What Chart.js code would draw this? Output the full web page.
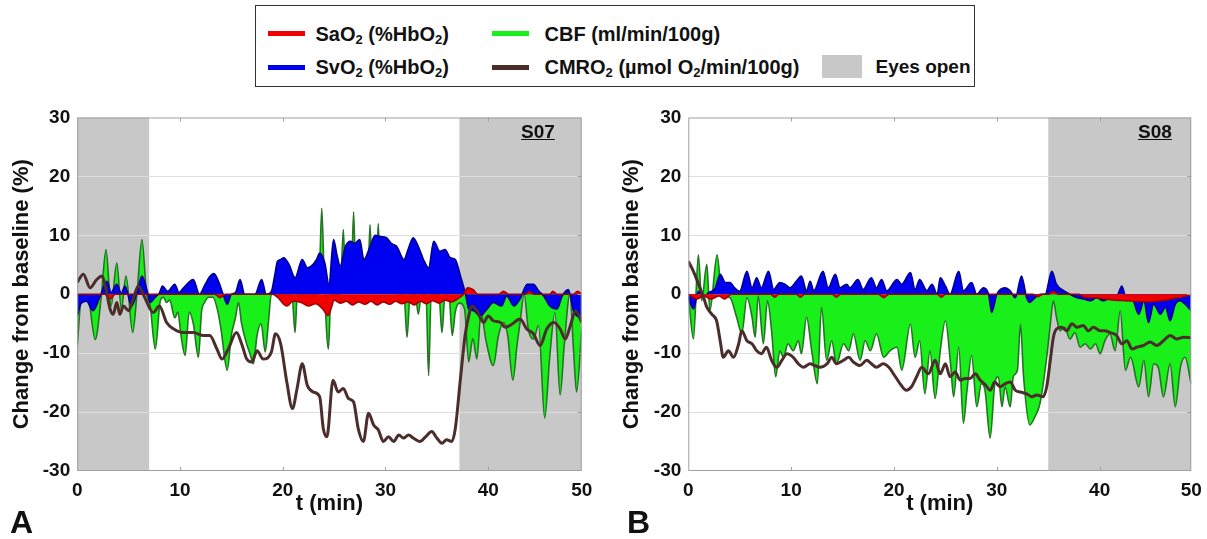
<!DOCTYPE html>
<html>
<head>
<meta charset="utf-8">
<script src="https://cdn.jsdelivr.net/npm/chart.js@4.4.1/dist/chart.umd.min.js"></script>
<style>
  body { margin: 0; width: 1207px; height: 539px; background: #fff; position: relative; overflow: hidden;
         font-family: "Liberation Sans", Arial, sans-serif; font-weight: bold; color: #111; }
  .legend { position: absolute; left: 255px; top: 5px; width: 718px; height: 80px; border: 1.5px solid #333; }
  .sw { position: absolute; width: 37px; height: 5px; }
  .lab { position: absolute; font-size: 20px; line-height: 22px; white-space: nowrap; }
  .lab sub { font-size: 13px; vertical-align: -3px; line-height: 0; }
  canvas { position: absolute; }
  .tag { position: absolute; font-size: 19px; text-decoration: underline; line-height: 22px; }
  .letter { position: absolute; font-size: 32px; line-height: 32px; }
</style>
</head>
<body>
<div class="legend">
  <div class="sw" style="left:11.5px;top:24.5px;background:#f00000"></div>
  <div class="lab" style="left:59.5px;top:16.5px">SaO<sub>2</sub> (%HbO<sub>2</sub>)</div>
  <div class="sw" style="left:235.5px;top:24.5px;background:#19f019"></div>
  <div class="lab" style="left:288.5px;top:16.5px">CBF (ml/min/100g)</div>
  <div class="sw" style="left:11.5px;top:58.5px;background:#0000f0"></div>
  <div class="lab" style="left:59.5px;top:49.5px">SvO<sub>2</sub> (%HbO<sub>2</sub>)</div>
  <div class="sw" style="left:235.5px;top:58.5px;background:#4b2d2b"></div>
  <div class="lab" style="left:288.5px;top:49.5px">CMRO<sub>2</sub> (µmol O<sub>2</sub>/min/100g)</div>
  <div class="sw" style="left:565.5px;top:48.5px;width:40px;height:23px;background:#c8c8c8"></div>
  <div class="lab" style="left:619.5px;top:49.5px;font-size:19px">Eyes open</div>
</div>

<canvas id="chartA" width="600" height="425" style="left:0;top:100px"></canvas>
<canvas id="chartB" width="600" height="425" style="left:610px;top:100px"></canvas>

<div class="tag" style="left:521px;top:121px">S07</div>
<div class="tag" style="left:1138px;top:121px">S08</div>
<div class="letter" style="left:10px;top:506px">A</div>
<div class="letter" style="left:627px;top:506px">B</div>

<script>
// ---------- axes ----------
const xTickValues = [0, 10, 20, 30, 40];          // last label sits on the axis end
const xTickLabels = ['0', '10', '20', '30', '40', '50'];
const yTickValues = [-30, -20, -10, 0, 10, 20, 30];

// ---------- S07 (panel A) ----------
const xMaxA = 49.1;
const eyesOpenA = [[0, 7.0], [37.2, 49.1]];

const cbfA_t = [0,0.45,1.1,1.75,2.35,2.8,3.3,3.85,4.3,4.75,5.4,5.85,6.3,6.75,7.1,7.6,8.1,8.4,8.7,9.0,9.5,9.8,10.1,10.5,10.9,11.3,11.8,12.1,12.4,12.8,13.2,13.7,14.0,14.6,15.0,15.4,15.7,16.0,16.5,16.8,17.15,17.5,17.9,18.3,18.6,18.9,20.9,21.2,21.4,21.6,23.5,23.8,24.05,24.45,24.7,25.6,25.9,26.15,26.65,26.9,27.15,28.25,28.5,28.75,29.05,29.3,29.55,31.8,32.1,32.4,32.9,33.2,33.5,33.95,34.2,34.45,35.2,35.5,35.8,36.2,36.5,36.8,37.2,37.7,38.1,38.5,38.9,39.3,39.8,40.5,41.0,41.5,41.9,42.4,42.8,43.1,43.5,43.9,44.4,44.9,45.5,46.0,46.5,47.0,47.4,47.95,48.3,48.6,49.1];
const cbfA   = [-8.7,-0.3,-1.0,-7.7,-0.3,7.6,-2.0,5.3,-2.5,3.1,-6.5,0.8,9.3,0,-2,-9.3,-1.0,-0.5,-1.4,-1.0,-4.0,-3.0,-7.0,-10.4,-3.0,-5.0,-10.7,-3.0,-1.4,-0.5,-0.5,-3.0,-6.0,-12.9,-7.0,-4.0,-1.4,-5.0,-8.5,-10.0,-11.8,-7.0,-5.0,-9.8,-5.0,0,0,-6.5,-0.5,0,0,14.6,2.0,-9.3,0,0,11.0,0.5,0.5,14.0,0.5,0.5,11.8,0.5,0.5,12.0,0.5,0,-7.3,0,0,-3.4,0,0,-13.8,0,0,-6.5,0,-0.5,-7.0,-3.0,-1.5,-2.5,-11.5,-7.5,-11.0,-3.1,-8.0,-12.1,-7.0,-4.8,-7.0,-14.6,-8.7,-4.8,0,-5.9,-7.6,-5.3,-21.0,-10.4,-3.1,-17.1,-8.7,0,-9.3,-16.6,-6.0];

const svoA_t = [0,0.4,0.9,1.55,2.2,2.9,3.3,3.85,4.3,4.65,5.3,5.85,6.3,6.85,7.1,7.6,8.0,8.3,8.8,9.5,9.9,10.3,11.3,11.9,12.4,12.9,13.3,13.8,14.2,14.6,15.0,15.4,15.85,16.3,17.3,17.95,18.4,18.9,19.2,19.5,19.8,20.1,20.6,21.2,21.9,22.4,22.8,23.3,23.6,24.1,24.5,24.95,25.3,25.6,26.1,26.6,27.0,27.5,27.9,28.5,29.0,29.5,30.1,30.6,31.1,31.8,32.2,32.7,33.2,33.7,34.2,34.7,35.3,35.8,36.3,36.8,37.3,37.8,38.1,38.6,39.2,39.9,40.5,41.3,41.8,42.5,43.1,43.8,44.4,44.9,45.4,46.0,46.7,47.2,47.8,48.3,49.1];
const svoA   = [-3.7,-1.5,-1.2,-2.8,-0.5,2.2,0.3,1.7,0.2,1.4,-2.0,0.5,3.1,0.3,-1.4,-0.5,0.2,1.4,0.5,1.7,0.3,1.0,2.5,0,1.5,3.0,3.5,2.0,0,-1.7,0,0.3,2.5,0,0,2.5,0,0.5,3.0,5.6,5.9,6.2,5.1,2.8,5.9,4.5,4.8,5.9,7.0,5.3,1.7,9.3,6.5,4.8,8.1,9.0,8.6,9.3,5.9,8.1,10.0,9.8,9.6,8.6,8.1,5.9,7.6,9.6,8.1,5.9,4.5,9.0,7.3,7.6,6.2,5.9,3.1,0,-2.5,-2.8,-3.7,-2.5,-1.4,-2.0,-0.3,-2.0,-0.8,1.7,1.7,0.6,-0.3,-2.0,-2.5,-0.3,0.8,-2.8,-4.2];

const saoA_t = [0,2.7,3.2,3.7,13.4,13.9,14.4,19.0,19.5,20.4,21.0,21.8,22.5,23.2,23.9,24.4,24.7,25.0,25.6,26.2,26.8,27.4,28.0,28.6,29.2,29.8,30.4,31.0,31.6,32.2,32.8,33.4,34.0,34.6,35.2,35.8,36.4,37.0,37.6,38.0,38.5,39.0,41.0,41.5,42.0,43.6,44.0,44.5,46.0,46.3,46.7,48.3,48.7,49.1];
const saoA   = [0,0,-0.8,0,0,-0.6,0,0,-0.5,-2.0,-1.2,-1.4,-2.0,-1.6,-2.5,-3.6,-2.5,-1.0,-1.5,-1.2,-1.8,-1.3,-1.7,-1.2,-1.8,-1.3,-1.7,-1.2,-1.6,-1.3,-1.8,-1.2,-1.6,-1.1,-1.5,-1.0,-1.3,-0.8,0,1.1,0.8,0,0,0.5,0,0,0.5,0,0,0.5,0,0,0.5,0];

const cmroA_t = [0,0.6,1.25,1.9,2.4,2.7,3.2,3.5,3.85,4.15,4.5,5.0,5.45,5.95,6.5,7.4,8.0,8.7,9.4,10.3,11.3,12.3,12.9,13.6,14.1,14.7,15.5,16.0,16.5,17.0,17.5,18.1,18.9,19.3,19.8,20.4,20.95,21.4,21.9,22.4,23.0,23.6,23.95,24.3,24.9,25.4,25.9,26.4,26.9,27.35,27.85,28.35,28.85,29.3,29.8,30.3,30.8,31.3,31.75,32.25,32.7,33.35,33.9,34.5,35.0,35.5,35.95,36.45,36.8,37.3,37.75,38.1,38.4,38.9,39.55,40.0,40.5,41.2,41.65,42.3,43.1,43.75,44.4,45.05,45.7,46.4,47.0,47.5,48.0,48.5,49.1];
const cmroA   = [2.0,3.4,1.1,2.5,3.1,1.7,-2.5,-3.4,-1.4,-3.4,-2.0,-2.8,-0.8,1.4,-0.3,-3.1,-2.0,-4.8,-5.9,-6.5,-6.5,-7.0,-7.0,-9.3,-11.0,-9.3,-6.5,-8.4,-11.0,-11.5,-9.6,-11.0,-9.8,-6.7,-8.4,-14.9,-19.4,-16.0,-11.8,-15.5,-16.6,-17.4,-22.8,-24.2,-14.6,-16.6,-16.0,-17.7,-18.3,-22.8,-25.0,-20.2,-22.2,-23.0,-25.0,-24.2,-25.0,-23.9,-24.4,-23.9,-24.4,-25.0,-24.2,-23.3,-24.4,-25.3,-24.7,-25.0,-22.8,-14.3,-7.0,-3.7,-2.0,-2.8,-4.8,-3.7,-4.5,-4.8,-5.6,-5.1,-4.2,-5.9,-6.7,-8.7,-5.9,-4.8,-5.9,-7.6,-5.3,-2.8,-4.8];

// ---------- S08 (panel B) ----------
const xMaxB = 48.9;
const eyesOpenB = [[35.0, 48.9]];

const cbfB_t = [0,0.5,0.98,1.3,1.8,2.1,2.8,3.25,4.05,4.7,5.2,5.7,6.2,6.5,6.8,7.3,7.7,8.1,8.5,8.9,9.25,9.7,10.2,10.7,11.0,11.5,12.0,12.55,12.95,13.45,13.95,14.4,15.1,15.6,16.05,16.7,17.2,17.7,18.3,19.0,19.6,20.3,20.75,21.6,22.05,22.5,23.0,23.5,24.0,24.5,25.0,25.5,25.8,26.3,26.75,27.1,27.55,28.05,28.5,28.85,29.35,29.8,30.15,30.5,30.8,31.3,31.6,32.0,32.3,32.6,33.2,33.7,34.2,34.85,35.2,35.5,35.8,36.15,36.6,37.1,37.6,38.1,38.6,39.1,39.6,40.05,40.5,41.0,41.5,42.0,42.5,43.0,43.8,44.3,44.75,45.25,45.7,46.2,46.85,47.35,47.85,48.3,48.9];
const cbfB   = [0,-7.6,6.7,-1.1,5.1,-2.8,6.7,0,-0.6,-3.9,-6.7,-0.6,-3.9,-7.3,-0.3,-8.4,-1.1,-6.2,-14.0,-9.6,-10.7,-8.4,-9.6,-7.9,-10.1,-3.9,-9.6,-15.2,-2.2,-11.2,-7.9,-11.8,-8.4,-9.6,-6.7,-11.2,-7.9,-9.6,-6.7,-10.7,-9.6,-9.0,-12.9,-5.1,-10.7,-7.9,-16.9,-9.6,-17.7,-9.6,-4.5,-11.8,-17.4,-9.0,-21.9,-16.3,-10.4,-19.1,-15.2,-16.3,-24.4,-15.2,-14.0,-19.1,-15.7,-19.1,-14.0,-12.9,-5.1,-14.0,-22.2,-20.8,-18.5,-10.7,-5.1,-1.1,-3.9,-6.2,-5.6,-7.6,-6.5,-9.0,-8.4,-9.3,-8.4,-10.1,-7.9,-6.7,-9.6,-2.8,-12.9,-10.7,-15.7,-11.2,-17.4,-11.8,-12.4,-17.4,-11.8,-19.1,-12.4,-10.7,-15.2];

const svoB_t = [0,0.5,1.0,1.5,2.0,2.6,3.1,3.6,4.05,4.5,5.0,5.7,6.2,6.65,7.1,7.8,8.3,8.9,9.4,9.9,10.5,11.0,11.5,11.85,12.2,13.1,13.6,14.3,14.75,15.4,15.7,16.5,17.0,17.8,18.3,18.8,19.3,20.3,20.75,21.6,22.05,22.5,23.2,23.7,24.2,24.5,25.0,25.45,26.3,26.75,27.55,28.05,28.7,29.2,29.5,30.0,30.8,31.3,31.8,32.4,32.9,33.2,33.7,34.2,34.7,35.35,35.8,36.5,37.1,37.8,38.4,39.1,39.7,40.35,41.0,41.7,42.15,42.65,43.1,43.8,44.3,44.75,45.25,45.9,46.4,46.85,47.35,47.8,48.3,48.9];
const svoB   = [-0.5,-2.5,0.5,-0.5,0.3,1.0,3.4,2.0,2.0,1.1,0.5,3.9,1.1,2.8,1.1,3.9,0.8,2.0,1.7,1.1,2.2,3.1,0.6,2.2,0.6,3.9,1.1,3.4,1.1,1.7,1.1,2.5,0.8,2.8,1.1,2.5,0.6,2.5,1.7,3.7,0.8,2.5,0.6,1.7,0,2.8,1.4,0,3.9,0.6,2.0,0,1.1,0,-3.1,0,1.1,0.6,-0.6,3.1,-0.6,-1.4,-0.6,0,0,3.9,1.7,0.6,0,-0.6,-0.8,-1.1,-0.6,-1.1,-0.6,-0.3,1.4,-1.1,-0.6,-3.4,-1.1,-4.8,-1.7,-3.4,-2.2,-4.5,-1.7,-1.1,-1.7,-2.8];

const saoB_t = [0,0.8,1.5,2.2,3.0,3.5,4.2,8.0,8.4,8.8,10.5,10.9,11.3,14.0,14.4,14.8,18.5,19.0,19.5,24.2,24.6,25.0,33.5,34.0,34.5,35.0,35.5,36.0,38.0,38.5,39.5,40.5,41.5,42.5,43.5,44.5,45.5,46.5,47.5,48.5,48.9];
const saoB   = [0,-0.8,-0.3,-0.8,-0.3,-0.8,0,0,-0.5,0,0,-0.5,0,0,-0.5,0,0,-0.6,0,0,-0.5,0,0,-0.4,0,0,0.5,0,0,-0.5,-0.6,-0.8,-1.0,-1.1,-1.2,-1.3,-1.2,-1.0,-0.6,-0.3,0];

const cmroB_t = [0,0.5,1.0,1.5,1.8,2.3,2.75,3.1,3.4,3.9,4.4,4.9,5.2,5.7,6.2,6.65,7.1,7.6,8.1,8.6,9.1,9.6,10.2,10.7,11.2,11.85,12.3,12.8,13.5,13.95,14.4,15.1,15.6,16.05,16.7,17.35,17.8,18.3,18.95,19.5,19.95,20.6,21.2,21.7,22.2,22.7,23.35,24.0,24.5,25.0,25.45,25.95,26.45,26.9,27.4,27.9,28.4,28.9,29.35,29.8,30.3,30.8,31.3,31.8,32.3,32.9,33.4,33.9,34.5,34.85,35.2,35.5,35.8,36.3,36.8,37.3,37.8,38.4,38.9,39.4,40.05,40.5,41.0,41.65,42.15,42.65,43.15,43.6,44.25,44.9,45.55,46.2,46.85,47.5,48.15,48.9];
const cmroB   = [5.6,3.9,1.7,-0.6,-2.2,-3.4,-4.5,-7.9,-10.7,-9.6,-10.7,-8.4,-6.2,-7.9,-8.4,-9.6,-10.1,-9.0,-11.2,-12.4,-11.2,-10.1,-10.7,-11.8,-12.4,-11.8,-12.1,-12.4,-11.8,-10.7,-11.8,-11.2,-10.7,-11.5,-12.1,-11.2,-11.8,-12.4,-11.8,-12.4,-13.5,-15.2,-16.3,-15.7,-14.0,-12.4,-13.5,-11.2,-13.5,-11.8,-14.0,-13.2,-14.6,-14.3,-14.3,-13.5,-14.6,-15.4,-16.3,-14.9,-15.7,-15.2,-14.9,-16.3,-16.6,-16.9,-17.4,-17.1,-17.4,-15.7,-11.2,-7.3,-5.9,-5.6,-6.2,-5.0,-5.6,-5.3,-6.2,-5.6,-6.2,-6.2,-6.5,-7.0,-8.4,-7.9,-9.3,-9.0,-8.7,-8.1,-8.7,-7.9,-7.0,-7.6,-7.3,-7.4];

// ---------- drawing ----------
Chart.defaults.font.family = '"Liberation Sans", Arial, sans-serif';
Chart.defaults.font.weight = 'bold';
Chart.defaults.color = '#111';

function toPoints(ts, vs) {
  return ts.map((t, i) => ({ x: t, y: vs[i] }));
}

function area(label, ts, vs, fillCol, lineCol, order) {
  return {
    label: label, data: toPoints(ts, vs),
    backgroundColor: fillCol, borderColor: lineCol, borderWidth: 1.6,
    fill: { value: 0 }, pointRadius: 0, cubicInterpolationMode: 'monotone', order: order
  };
}

function makePanel(id, p) {
  // grey "eyes open" blocks behind the grid
  const shade = {
    id: 'eyesOpen',
    beforeDraw(chart) {
      const { ctx, chartArea: a, scales: { x } } = chart;
      ctx.save();
      ctx.fillStyle = '#c8c8c8';
      p.eyesOpen.forEach(function (s) {
        const x0 = x.getPixelForValue(s[0]), x1 = x.getPixelForValue(s[1]);
        ctx.fillRect(x0, a.top, x1 - x0, a.bottom - a.top);
      });
      ctx.restore();
    }
  };
  // axes box + little inner tick marks
  const frame = {
    id: 'frame',
    afterDatasetsDraw(chart) {
      const { ctx, chartArea: a, scales: { x, y } } = chart;
      ctx.save();
      ctx.strokeStyle = '#a0a0a0';
      ctx.lineWidth = 1;
      ctx.strokeRect(a.left + 0.5, a.top + 0.5, a.right - a.left - 1, a.bottom - a.top - 1);
      ctx.beginPath();
      xTickValues.slice(1).forEach(function (v) {
        const px = Math.round(x.getPixelForValue(v)) + 0.5;
        ctx.moveTo(px, a.top); ctx.lineTo(px, a.top + 4);
        ctx.moveTo(px, a.bottom); ctx.lineTo(px, a.bottom - 4);
      });
      yTickValues.slice(1, -1).forEach(function (v) {
        const py = Math.round(y.getPixelForValue(v)) + 0.5;
        ctx.moveTo(a.right, py); ctx.lineTo(a.right - 4, py);
      });
      ctx.stroke();
      ctx.restore();
    }
  };

  return new Chart(document.getElementById(id), {
    type: 'line',
    data: {
      datasets: [
        {
          label: 'CMRO2', data: toPoints(p.cmroT, p.cmro),
          borderColor: '#4b2d2b', borderWidth: 3, fill: false, pointRadius: 0,
          cubicInterpolationMode: 'monotone', order: 0
        },
        area('SaO2', p.saoT, p.sao, '#f00000', '#a00000', 1),
        area('SvO2', p.svoT, p.svo, '#0000f0', '#00008a', 2),
        area('CBF', p.cbfT, p.cbf, '#19f019', '#267326', 3)
      ]
    },
    options: {
      responsive: false,
      animation: false,
      layout: { padding: { left: 0, top: 17.5, right: p.padRight, bottom: 8 } },
      plugins: { legend: { display: false }, tooltip: { enabled: false } },
      scales: {
        x: {
          type: 'linear', min: 0, max: p.xMax,
          afterBuildTicks: function (s) {
            s.ticks = xTickValues.concat([p.xMax]).map(function (v) { return { value: v }; });
          },
          ticks: {
            autoSkip: false, maxRotation: 0, padding: 8,
            font: { size: 19, weight: 'bold' }, color: '#111',
            callback: function (v, i) { return xTickLabels[i]; }
          },
          grid: { display: false, drawTicks: false },
          border: { display: false },
          title: { display: true, text: 't (min)', font: { size: 22, weight: 'bold' }, color: '#111', padding: 0 },
          afterFit: function (s) { s.height = 46; s.paddingLeft = 0; s.paddingRight = 0; }
        },
        y: {
          min: -30, max: 30,
          afterBuildTicks: function (s) {
            s.ticks = yTickValues.map(function (v) { return { value: v }; });
          },
          ticks: { padding: 7, font: { size: 19, weight: 'bold' }, color: '#111' },
          grid: {
            drawTicks: false,
            color: function (c) {
              const v = c.tick ? c.tick.value : 0;
              return (v === 0 || Math.abs(v) === 30) ? 'rgba(0,0,0,0)' : '#dedede';
            }
          },
          border: { display: false },
          title: {
            display: true, text: 'Change from baseline (%)',
            font: { size: 22, weight: 'bold' }, color: '#111', padding: { top: 9, bottom: 0 }
          },
          afterFit: function (s) { s.width = p.yWidth; s.paddingTop = 0; s.paddingBottom = 0; }
        }
      }
    },
    plugins: [shade, frame]
  });
}

makePanel('chartA', {
  xMax: xMaxA, eyesOpen: eyesOpenA, yWidth: 77.2, padRight: 18.3,
  cbfT: cbfA_t, cbf: cbfA, svoT: svoA_t, svo: svoA,
  saoT: saoA_t, sao: saoA, cmroT: cmroA_t, cmro: cmroA
});

makePanel('chartB', {
  xMax: xMaxB, eyesOpen: eyesOpenB, yWidth: 78.3, padRight: 18.8,
  cbfT: cbfB_t, cbf: cbfB, svoT: svoB_t, svo: svoB,
  saoT: saoB_t, sao: saoB, cmroT: cmroB_t, cmro: cmroB
});
</script>
</body>
</html>
